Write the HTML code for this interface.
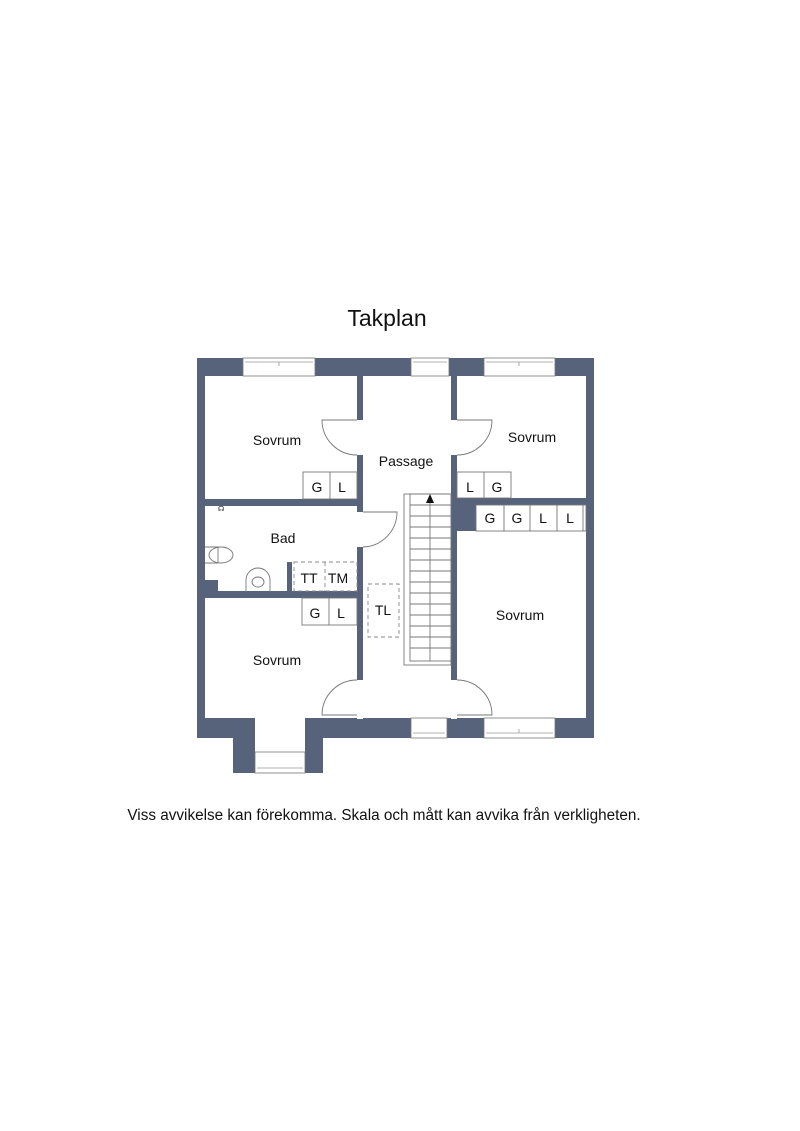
<!DOCTYPE html>
<html><head><style>body{margin:0;background:#fff}svg{display:block}text{font-family:"Liberation Sans",sans-serif;fill:#111}</style></head>
<body>
<svg width="800" height="1131" viewBox="0 0 800 1131" xmlns="http://www.w3.org/2000/svg">
<text x="387" y="326" font-size="23" text-anchor="middle">Takplan</text>
<g fill="#56637a">
<rect x="197" y="358" width="397" height="18"/>
<rect x="197" y="358" width="8" height="380"/>
<rect x="586" y="358" width="8" height="380"/>
<rect x="197" y="718" width="58" height="20"/>
<rect x="305" y="718" width="289" height="20"/>
<rect x="233" y="718" width="22" height="55"/>
<rect x="305" y="718" width="18" height="55"/>
<rect x="357" y="376" width="6" height="44"/>
<rect x="357" y="455" width="6" height="57"/>
<rect x="357" y="547" width="6" height="133"/>
<rect x="451" y="376" width="6" height="44"/>
<rect x="451" y="455" width="6" height="225"/>
<rect x="205" y="499" width="152" height="7"/>
<rect x="205" y="591" width="152" height="7"/>
<rect x="205" y="580" width="13" height="18"/>
<rect x="287" y="562" width="5" height="36"/>
<rect x="457" y="498" width="129" height="7"/>
<rect x="457" y="505" width="19" height="26"/>
</g>
<g fill="#fff" stroke="#777" stroke-width="0.8">
<rect x="243" y="358" width="72" height="18"/>
<rect x="411" y="358" width="38" height="18"/>
<rect x="484" y="358" width="71" height="18"/>
<rect x="411" y="718" width="36" height="20"/>
<rect x="484" y="718" width="71" height="20"/>
<rect x="255" y="752" width="50" height="21"/>
<rect x="357" y="713" width="6" height="6" stroke="none"/>
<rect x="451" y="713" width="6" height="6" stroke="none"/>
</g>
<g stroke="#999" stroke-width="0.8" fill="none">
<path d="M245 362H313M279 362V366M413 362H447M486 362H553M519 362V366M413 733H445M486 733H553M519 733V729M257 768H303"/>
</g>
<g stroke="#777" stroke-width="0.9" fill="none">
<path d="M357 420H322A35 35 0 0 0 357 455"/>
<path d="M457 420H492A35 35 0 0 1 457 455"/>
<path d="M363 512H397A35 35 0 0 1 363 547"/>
<path d="M357 715H322A35 35 0 0 1 357 680"/>
<path d="M457 715H492A35 35 0 0 0 457 680"/>
<rect x="303" y="472" width="54" height="27"/><path d="M330 472V499"/>
<rect x="457" y="472" width="54" height="26"/><path d="M484 472V498"/>
<rect x="476" y="505" width="110" height="26"/><path d="M504 505V531M530 505V531M557 505V531M583 505V531"/>
<rect x="302" y="598" width="55" height="27"/><path d="M329 598V625"/>
<rect x="404" y="494" width="47" height="171"/>
<rect x="410" y="494" width="41" height="167"/>
<path d="M430 503V661"/>
<path d="M410 505H451M410 516H451M410 527H451M410 538H451M410 549H451M410 560H451M410 571H451M410 582H451M410 593H451M410 604H451M410 615H451M410 626H451M410 637H451M410 648H451"/>
<path d="M246 592V580A12 12 0 0 1 270 580V592"/>
<ellipse cx="258" cy="582" rx="6" ry="5"/>
<path d="M205 547H218V563H205"/>
<ellipse cx="221" cy="555" rx="12" ry="8"/>
</g>
<g stroke="#888" stroke-width="0.9" fill="none" stroke-dasharray="4 3">
<rect x="294" y="562" width="63" height="29"/><path d="M325 562V591"/>
<rect x="368" y="584" width="31" height="53"/>
</g>
<path d="M426 503L430 494L434 503Z" fill="#111"/>
<text x="218" y="511" font-size="7">☊</text>
<g font-size="14" text-anchor="middle">
<text x="277" y="445">Sovrum</text>
<text x="406" y="466">Passage</text>
<text x="532" y="442">Sovrum</text>
<text x="283" y="543">Bad</text>
<text x="520" y="620">Sovrum</text>
<text x="277" y="665">Sovrum</text>
<text x="383" y="615">TL</text>
<text x="317" y="492">G</text><text x="342" y="492">L</text>
<text x="470" y="492">L</text><text x="497" y="492">G</text>
<text x="490" y="523">G</text><text x="517" y="523">G</text><text x="543" y="523">L</text><text x="570" y="523">L</text>
<text x="315" y="618">G</text><text x="341" y="618">L</text>
<text x="309" y="583">TT</text><text x="338" y="583">TM</text>
</g>
<text x="384" y="820" font-size="15.3" text-anchor="middle">Viss avvikelse kan förekomma. Skala och mått kan avvika från verkligheten.</text>
</svg>
</body></html>
